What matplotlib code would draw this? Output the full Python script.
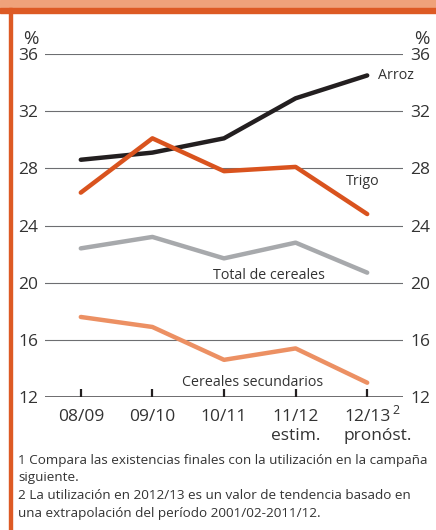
import matplotlib
matplotlib.use('Agg')
from matplotlib import pyplot as plt
from matplotlib.patches import Rectangle

plt.rcParams['font.family'] = ['Open Sans', 'DejaVu Sans']

# campaigns
campaigns = ['08/09', '09/10', '10/11', '11/12', '12/13']
second_line = ['', '', '', 'estim.', 'pronóst.']

# stock-to-use ratios (%)
arroz = [28.6, 29.1, 30.1, 32.9, 34.5]
trigo = [26.3, 30.1, 27.8, 28.1, 24.8]
total = [22.4, 23.2, 21.7, 22.8, 20.7]
secundarios = [17.6, 16.9, 14.6, 15.4, 13.0]

yticks = [12, 16, 20, 24, 28, 32, 36]

notes = ["1 Compara las existencias finales con la utilización en la campaña",
         "siguiente.",
         "2 La utilización en 2012/13 es un valor de tendencia basado en",
         "una extrapolación del período 2001/02-2011/12."]

W, H = 436, 530
fig = plt.figure(figsize=(W / 100, H / 100), dpi=100)

# frame decoration: top band and left border
fig.patches.append(Rectangle((0, 1 - 8 / H), 1, 8 / H, transform=fig.transFigure,
                             color='#EFA27A', zorder=0))
fig.patches.append(Rectangle((0, 1 - 13 / H), 1, 5 / H, transform=fig.transFigure,
                             color='#DD5A24', zorder=0))
fig.patches.append(Rectangle((9 / W, 0), 3 / W, 1 - 8 / H, transform=fig.transFigure,
                             color='#DD5A24', zorder=0))

ax = fig.add_axes([45 / W, (H - 397) / H, (403 - 45) / W, (397 - 54) / H])
x = list(range(len(campaigns)))

for v in yticks[1:]:
  ax.axhline(v, color='#6d6e71', lw=0.8, zorder=1)
ax.axhline(12, color='#414042', lw=1.8, zorder=1)

ax.plot(x, secundarios, color='#EC9063', lw=3.2, solid_capstyle='round', zorder=3)
ax.plot(x, total, color='#A7A9AC', lw=3.2, solid_capstyle='round', zorder=3)
ax.plot(x, arroz, color='#231F20', lw=3.2, solid_capstyle='round', zorder=3)
ax.plot(x, trigo, color='#D9531E', lw=3.2, solid_capstyle='round', zorder=4)

ax.set_xlim(-0.5, 4.5)
ax.set_ylim(12, 36)
for s in ax.spines.values():
  s.set_visible(False)
ax.set_yticks(yticks)
ax.tick_params(axis='y', length=0, pad=5, labelsize=12.5, labelcolor='#333333',
               labelleft=True, labelright=True)
ax.set_xticks(x)
ax.set_xticklabels([])
ax.tick_params(axis='x', direction='in', length=6, width=1.6, color='#231F20')

txt = dict(color='#333333', fontsize=12.5)
for i, c in enumerate(campaigns):
  ax.text(i, 11.15, c, ha='center', va='top', **txt)
  if second_line[i]:
    dx = 0.15 if i == 4 else 0
    ax.text(i + dx, 9.85, second_line[i], ha='center', va='top', **txt)
ax.text(4.35, 11.5, '2', ha='left', va='top', color='#333333', fontsize=9)

ax.text(-0.8, 36.45, '%', ha='left', va='bottom', color='#333333', fontsize=13.5)
ax.text(4.65, 36.45, '%', ha='left', va='bottom', color='#333333', fontsize=13.5)

lab = dict(color='#333333', fontsize=10.3)
ax.text(4.15, 34.5, 'Arroz', ha='left', va='center', **lab)
ax.text(3.7, 27.1, 'Trigo', ha='left', va='center', **lab)
ax.text(1.85, 20.5, 'Total de cereales', ha='left', va='center', **lab)
ax.text(2.4, 13.0, 'Cereales secundarios', ha='center', va='center', **lab)

for k, line in enumerate(notes):
  fig.text(18 / W, 1 - (454 + 17.5 * k) / H, line, ha='left', va='top',
           color='#333333', fontsize=9.7)

fig.savefig('out.png', dpi=100)
